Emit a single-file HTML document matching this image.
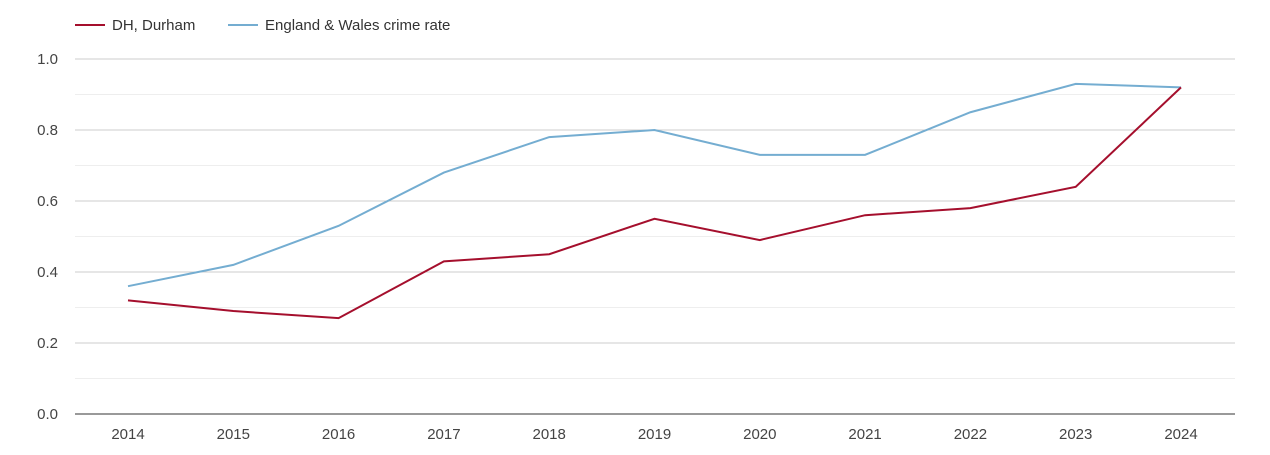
<!DOCTYPE html>
<html><head><meta charset="utf-8"><style>
body{margin:0;background:#fff;font-family:"Liberation Sans",sans-serif;}
svg text{font-family:"Liberation Sans",sans-serif;}
</style></head><body>
<svg id="chart" width="1270" height="450">
<g id="legend">
<g><line x1="75" y1="25" x2="105" y2="25" stroke="#a50f2d" stroke-width="2"/><text x="112" y="30" font-size="15" fill="#333">DH, Durham</text></g>
<g><line x1="228" y1="25" x2="258" y2="25" stroke="#74add1" stroke-width="2"/><text x="265" y="30" font-size="15" fill="#333">England &amp; Wales crime rate</text></g>
</g>
<g id="grid"></g><g id="yticks"></g><g id="xticks"></g><g id="lines"></g>
</svg>
<script>
const years=["2014","2015","2016","2017","2018","2019","2020","2021","2022","2023","2024"];
const durham=[0.32,0.29,0.27,0.43,0.45,0.55,0.49,0.56,0.58,0.64,0.92];
const englandWales=[0.36,0.42,0.53,0.68,0.78,0.80,0.73,0.73,0.85,0.93,0.92];
const yTickLabels=["0.0","0.2","0.4","0.6","0.8","1.0"];
const NS="http://www.w3.org/2000/svg";
const x0=75,x1=1235,yb=414,yt=59;
const x=i=>128+i*(1181-128)/(years.length-1);
const y=v=>yb-v*(yb-yt);
function mk(t,a,p){const e=document.createElementNS(NS,t);for(const k in a)e.setAttribute(k,a[k]);p.appendChild(e);return e;}
const g=document.getElementById('grid');
for(let i=1;i<=10;i++){const v=i/10;
 const l=mk('line',{x1:x0,x2:x1,y1:y(v),y2:y(v),stroke:i%2?'#eeeeee':'#cccccc','stroke-width':1},g);
 
 }
const ax=mk('line',{x1:x0,x2:x1,y1:yb,y2:yb,stroke:'#333','stroke-width':1},g);


const yt_=document.getElementById('yticks');
yTickLabels.forEach(s=>{const t=mk('text',{x:58,y:y(parseFloat(s))+5,'text-anchor':'end','font-size':15,fill:'#444'},yt_);t.textContent=s;
 
 });
const xt=document.getElementById('xticks');
years.forEach((s,i)=>{const t=mk('text',{x:x(i),y:439,'text-anchor':'middle','font-size':15,fill:'#444'},xt);t.textContent=s;
 
 });
const lg=document.getElementById('lines');
function series(d,c,n){const p=mk('polyline',{points:d.map((v,i)=>x(i)+','+y(v)).join(' '),fill:'none',stroke:c,'stroke-width':2},lg);
 
 }
series(englandWales,'#74add1','england-wales-line');
series(durham,'#a50f2d','durham-line');
</script>
</body></html>
